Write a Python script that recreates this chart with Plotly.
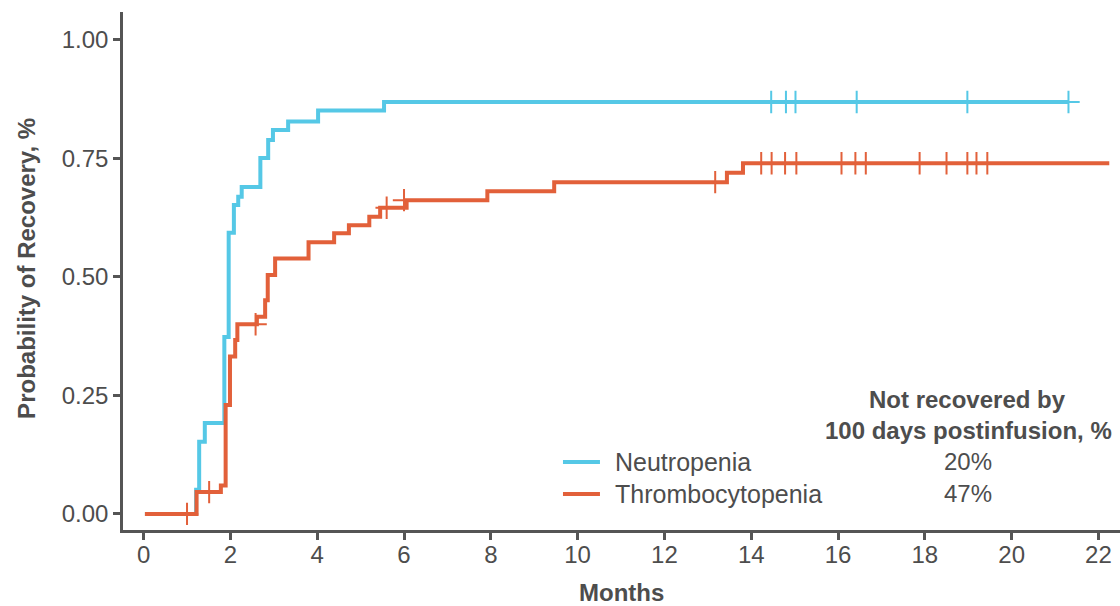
import plotly.graph_objects as go

# Cumulative probability of recovery (step curves), months after infusion
neut_t = [0.03, 1.21, 1.28, 1.41, 1.86, 1.96, 2.08, 2.18, 2.26, 2.69, 2.87, 2.98, 3.33, 4.02, 5.54, 21.31]
neut_p = [0.0, 0.051, 0.152, 0.192, 0.373, 0.593, 0.652, 0.669, 0.690, 0.751, 0.789, 0.810, 0.828, 0.851, 0.869, 0.869]
neut_cens_t = [14.46, 14.80, 15.02, 16.43, 18.98, 21.31]
neut_cens_p = [0.869, 0.869, 0.869, 0.869, 0.869, 0.869]

thr_t = [0.03, 1.22, 1.78, 1.89, 1.99, 2.11, 2.16, 2.61, 2.80, 2.86, 3.03, 3.80, 4.39, 4.73,
         5.20, 5.45, 6.06, 7.92, 9.46, 13.44, 13.81, 22.25]
thr_p = [0.0, 0.046, 0.060, 0.230, 0.332, 0.367, 0.400, 0.416, 0.451, 0.504, 0.539, 0.573, 0.592, 0.609,
         0.627, 0.646, 0.662, 0.681, 0.700, 0.720, 0.740, 0.740]
thr_cens_t = [1.00, 1.51, 2.58, 5.60, 6.00, 13.17, 14.23, 14.47, 14.78, 15.04, 16.08, 16.40, 16.64,
              17.88, 18.50, 18.98, 19.19, 19.44]
thr_cens_p = [0.0, 0.046, 0.400, 0.646, 0.662, 0.700, 0.740, 0.740, 0.740, 0.740, 0.740, 0.740, 0.740,
              0.740, 0.740, 0.740, 0.740, 0.740]

series_names = ["Neutropenia", "Thrombocytopenia"]
not_recovered_pct = [20, 47]

x_ticks = list(range(0, 23, 2))
y_ticks = [0.0, 0.25, 0.5, 0.75, 1.0]

BLUE = "#55c8e6"
ORANGE = "#e2603a"
AXIS = "#555555"
TEXT = "#4d4d4d"
FONT = "Liberation Sans, Arial, sans-serif"

fig = go.Figure()

fig.add_trace(go.Scatter(x=neut_t, y=neut_p, mode="lines", line=dict(shape="hv", color=BLUE, width=4),
                         name=series_names[0], showlegend=False))
fig.add_trace(go.Scatter(x=neut_cens_t, y=neut_cens_p, mode="markers", showlegend=False,
                         marker=dict(symbol="cross-thin", size=16, line=dict(color=BLUE, width=2))))
fig.add_trace(go.Scatter(x=thr_t, y=thr_p, mode="lines", line=dict(shape="hv", color=ORANGE, width=4),
                         name=series_names[1], showlegend=False))
fig.add_trace(go.Scatter(x=thr_cens_t, y=thr_cens_p, mode="markers", showlegend=False,
                         marker=dict(symbol="cross-thin", size=16, line=dict(color=ORANGE, width=2))))

axis_common = dict(showline=True, linecolor=AXIS, linewidth=2.5, ticks="outside", ticklen=7,
                   tickwidth=2.5, tickcolor=AXIS, showgrid=False, zeroline=False,
                   tickfont=dict(family=FONT, size=24, color=TEXT))

fig.update_xaxes(range=[-0.475, 22.497], tickvals=x_ticks, ticklabelstandoff=-6, **axis_common)
fig.update_yaxes(range=[-0.034, 1.059], tickvals=y_ticks, tickformat=".2f", **axis_common)

annotations = [
    dict(text="<b>Months</b>", x=0.5, y=-0.1216, xref="paper", yref="paper",
         xanchor="center", yanchor="middle", showarrow=False,
         font=dict(family=FONT, size=24, color=TEXT)),
    dict(text="<b>Probability of Recovery, %</b>", x=-0.0963, y=0.506, xref="paper", yref="paper",
         xanchor="center", yanchor="middle", textangle=-90, showarrow=False,
         font=dict(family=FONT, size=24, color=TEXT)),
    dict(text="<b>Not recovered by</b>", x=0.8475, y=0.251, xref="paper", yref="paper",
         xanchor="center", yanchor="middle", showarrow=False,
         font=dict(family=FONT, size=24, color=TEXT)),
    dict(text="<b>100 days postinfusion, %</b>", x=0.8485, y=0.193, xref="paper", yref="paper",
         xanchor="center", yanchor="middle", showarrow=False,
         font=dict(family=FONT, size=24, color=TEXT)),
]

# Key: colour swatch, series name and the not-recovered percentage on each row
shapes = []
row_y = [0.1313, 0.0695]
for name, pct, color, ypos in zip(series_names, not_recovered_pct, [BLUE, ORANGE], row_y):
    shapes.append(dict(type="line", xref="paper", yref="paper", x0=0.4413, x1=0.4784, y0=ypos, y1=ypos,
                       line=dict(color=color, width=4)))
    annotations.append(dict(text=name, x=0.4915, y=ypos, xref="paper", yref="paper",
                            xanchor="left", yanchor="middle", showarrow=False,
                            font=dict(family=FONT, size=25, color=TEXT)))
    annotations.append(dict(text=f"{pct}%", x=0.8475, y=ypos, xref="paper", yref="paper",
                            xanchor="center", yanchor="middle", showarrow=False,
                            font=dict(family=FONT, size=24, color=TEXT)))

fig.update_layout(
    width=1120, height=606,
    margin=dict(l=123, r=0, t=12, b=76),
    paper_bgcolor="white", plot_bgcolor="white",
    font=dict(family=FONT, color=TEXT),
    showlegend=False,
    annotations=annotations,
    shapes=shapes,
)

fig.write_html("out.html")
